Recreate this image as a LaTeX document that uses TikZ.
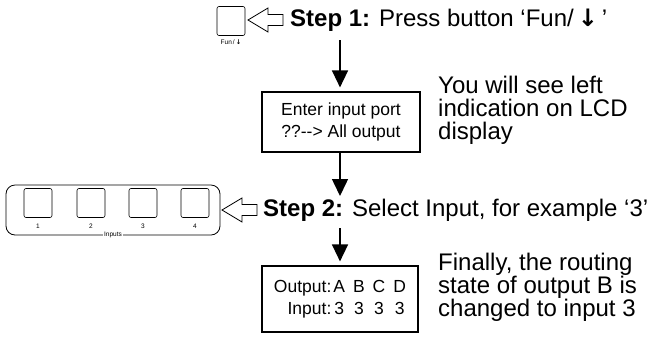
\documentclass[tikz,border=0pt]{standalone}
\usepackage{fontspec}
\setmainfont{Liberation Sans}
\newfontfamily\arrowfont{DejaVu Sans}
\usetikzlibrary{arrows.meta}
\tikzset{>=latex}
\newcommand{\bigtxt}{\fontsize{24}{23}\selectfont}
\newcommand{\boxtxt}{\fontsize{17.5}{21.5}\selectfont}
\newcommand{\tinytxt}{\fontsize{6.5}{7}\selectfont}
\tikzset{
  lcdbox/.style={draw,line width=1.2pt,align=center,inner sep=0pt,font=\boxtxt},
  btn/.style={draw,line width=0.6pt,rounded corners=2pt,minimum width=28pt,minimum height=29pt,inner sep=0pt},
  flow/.style={line width=1.5pt,-{Triangle[length=17pt,width=16pt]}},
  note/.style={anchor=north west,align=left,inner sep=0pt,font=\bigtxt},
  hollow/.pic={\draw[line width=0.8pt,fill=white] (0,0) -- (20,-12) -- (20,-5.5) -- (35,-5.5) -- (35,5.5) -- (20,5.5) -- (20,12) -- cycle;}
}

\begin{document}
\begin{tikzpicture}[x=1pt,y=-1pt]
		\useasboundingbox (0,0) rectangle (652,341);
		% Step 1
		\node[btn] (fun) at (231,21) {};
		\node[font=\tinytxt,inner sep=0pt] (funlbl) at (231,42) {Fun\,/\,{\arrowfont\bfseries ↓}};
		\pic at (248,20) {hollow};
		\node[anchor=west,inner sep=0pt,font=\bigtxt] (step1) at (290,20) {\textbf{Step 1:} Press button ‘Fun/\,{\arrowfont\bfseries ↓}\,’};
		% LCD display 1
		\coordinate (a1) at (340,40);
		\node[lcdbox,minimum width=158pt,minimum height=60pt] (lcd1) at (341,122) {Enter input port\\??-{}-{}> All output};
		\node[note] (txt1) at (438,76) {You will see left\\indication on LCD\\display};
		\draw[flow,shorten >=4pt] (a1) -- (a1 |- lcd1.north);
		% Step 2
		\node[draw,line width=0.8pt,rounded corners=9pt,minimum width=214pt,minimum height=50pt] (inputs) at (113,210) {};
		\foreach \i/\x in {1/38,2/91,3/143,4/195}{
			\node[btn] (in\i) at (\x,203) {};
			\node[font=\tinytxt,inner sep=0pt] (lbl\i) at (\x,226) {\i};
		}
		\node[fill=white,font=\tinytxt,inner sep=1.5pt] (inlbl) at (inputs.south) {Inputs};
		\pic at (222,210) {hollow};
		\node[anchor=west,inner sep=0pt,font=\bigtxt] (step2) at (263,210) {\textbf{Step 2:} Select Input, for example ‘3’};
		\coordinate (a2) at (340,196);
		\draw[flow] (a1 |- lcd1.south) -- (a2);
		% LCD display 2
		\coordinate (a3) at (340,228);
		\node[lcdbox,minimum width=156pt,minimum height=66pt] (lcd2) at (340,299) {\begin{tabular}{@{}r@{\hspace{2pt}}c@{\hspace{8pt}}c@{\hspace{8pt}}c@{\hspace{8pt}}c@{}}Output:&A&B&C&D\\Input:&3&3&3&3\end{tabular}};
		\draw[flow,shorten >=4pt] (a3) -- (a3 |- lcd2.north);
		\node[note] (txt2) at (438,253) {Finally, the routing\\state of output B is\\changed to input 3};
\end{tikzpicture}
\end{document}
